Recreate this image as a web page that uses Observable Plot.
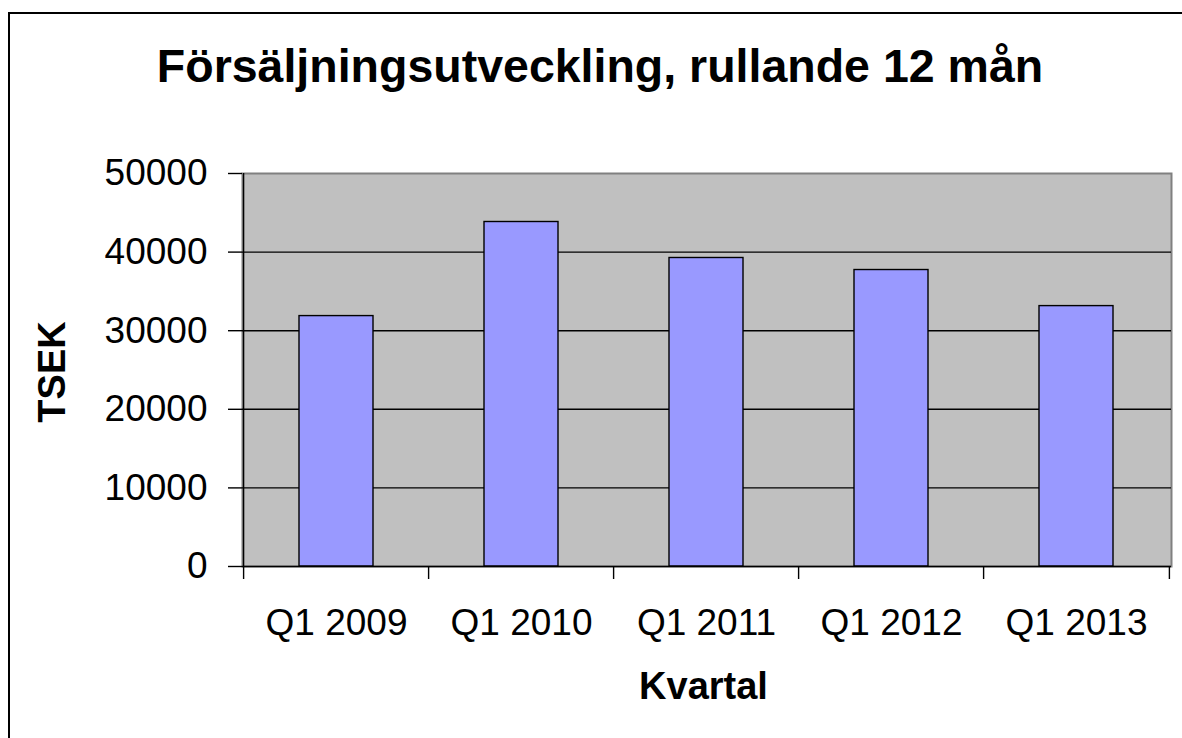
<!DOCTYPE html>
<html>
<head>
<meta charset="utf-8">
<script src="https://cdn.jsdelivr.net/npm/d3@7"></script>
<script src="https://cdn.jsdelivr.net/npm/@observablehq/plot@0.6"></script>
<style>
  html, body { margin: 0; padding: 0; background: #fff; width: 1182px; height: 738px; overflow: hidden; }
  body { position: relative; font-family: "Liberation Sans", Arial, sans-serif; color: #000; }
  #border { position: absolute; left: 8px; top: 12px; width: 2000px; height: 1200px; border-top: 2.5px solid #000; border-left: 2.5px solid #000; box-sizing: border-box; }
  #title { position: absolute; left: 0; top: 44px; width: 1200px; text-align: center; font-size: 46.5px; line-height: 45px; font-weight: bold; white-space: nowrap; }
  #ylabel { position: absolute; left: 52px; top: 372px; font-size: 38px; line-height: 38px; font-weight: bold; transform: translate(-50%, -50%) rotate(-90deg); white-space: nowrap; }
  #xlabel { position: absolute; left: 503.5px; top: 667px; width: 400px; text-align: center; font-size: 38px; line-height: 38px; font-weight: bold; }
  #chart { position: absolute; left: 0; top: 120px; }
</style>
</head>
<body>
<div id="border"></div>
<div id="title">Försäljningsutveckling, rullande 12 mån</div>
<div id="ylabel">TSEK</div>
<div id="xlabel">Kvartal</div>
<div id="chart"></div>
<script>
const categories = ["Q1 2009", "Q1 2010", "Q1 2011", "Q1 2012", "Q1 2013"];
const values = [31860, 43830, 39250, 37720, 33130];
const yTicks = [0, 10000, 20000, 30000, 40000, 50000];

const data = categories.map((c, i) => ({cat: c, value: values[i]}));

const width = 1182, height = 618;
const marginLeft = 242, marginRight = 11, marginTop = 53, marginBottom = 172;
const step = (width - marginLeft - marginRight) / categories.length;
const ink = "#000";
const sw = 1.4;

const chart = Plot.plot({
  width, height, marginLeft, marginRight, marginTop, marginBottom,
  style: {fontFamily: '"Liberation Sans", Arial, sans-serif', fontSize: "37px", color: "#000", background: "transparent", overflow: "visible"},
  x: {domain: categories, paddingInner: 0.6, paddingOuter: 0.3, label: null},
  y: {domain: [0, 50000], label: null},
  marks: [
    Plot.frame({fill: "#C0C0C0", stroke: "#808080", strokeWidth: 2}),
    Plot.ruleY(yTicks.filter(t => t > 0 && t < 50000), {stroke: ink, strokeWidth: sw}),
    Plot.barY(data, {x: "cat", y: "value", fill: "#9999FF", stroke: ink, strokeWidth: sw}),
    Plot.ruleY([0], {stroke: ink, strokeWidth: sw}),
    Plot.ruleX([categories[0]], {dx: -step / 2, stroke: ink, strokeWidth: sw}),
    Plot.axisY(yTicks, {tickSize: 14, tickPadding: 21, tickFormat: "d", label: null, stroke: ink, strokeWidth: sw, fontSize: 37}),
    Plot.axisX(categories, {tickSize: 13, tickFormat: () => "", dx: -step / 2, label: null, stroke: ink, strokeWidth: sw}),
    Plot.axisX([categories[categories.length - 1]], {tickSize: 13, tickFormat: () => "", dx: step / 2, label: null, stroke: ink, strokeWidth: sw}),
    Plot.axisX(categories, {tickSize: 0, tickPadding: 42, label: null, fontSize: 37})
  ]
});
document.getElementById("chart").appendChild(chart);
</script>
</body>
</html>
